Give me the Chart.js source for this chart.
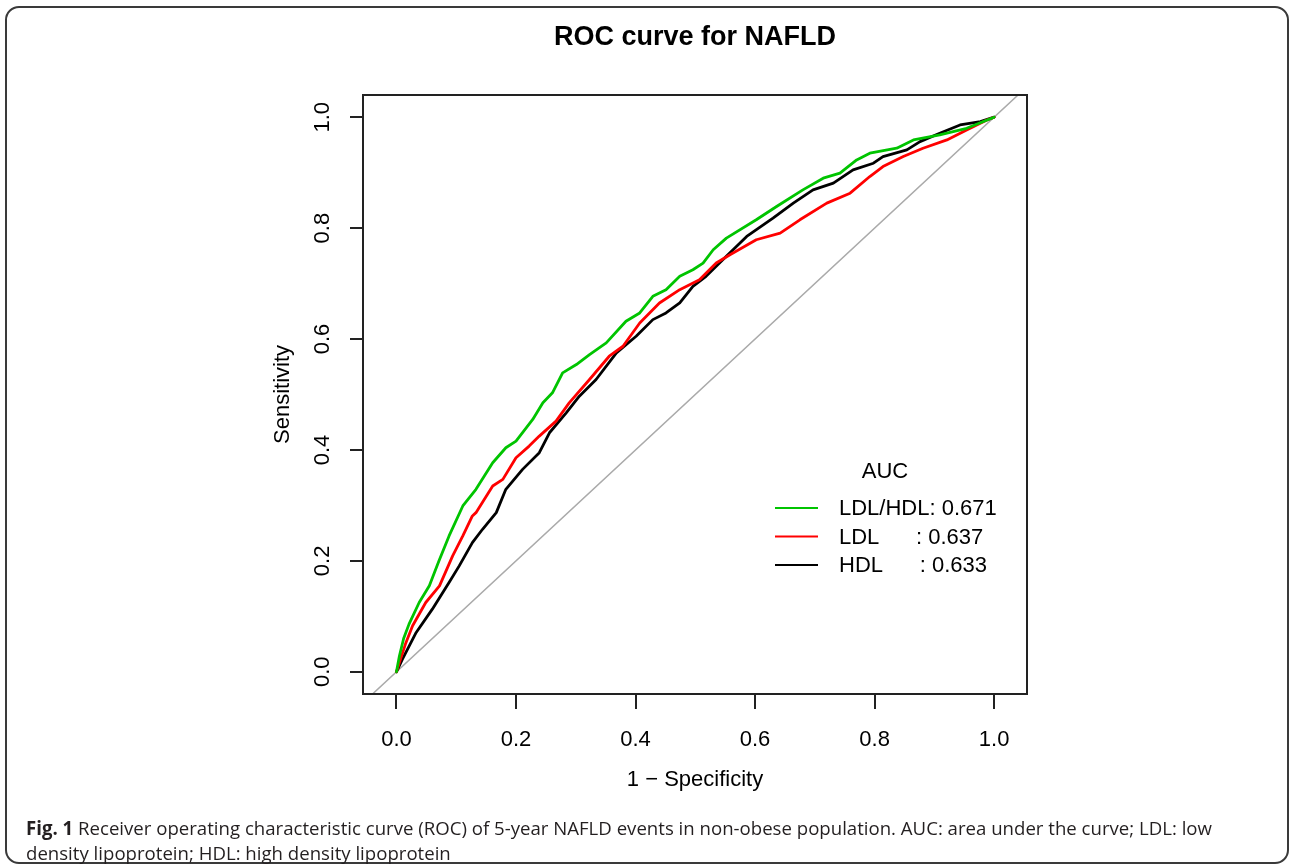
<!DOCTYPE html>
<html>
<head>
<meta charset="utf-8">
<script src="https://cdn.jsdelivr.net/npm/chart.js@4.4.1/dist/chart.umd.min.js"></script>
<style>
  html, body { margin: 0; padding: 0; background: #ffffff; }
  #wrap { position: relative; width: 1290px; height: 864px; overflow: hidden; background: #fff; }
  #frame { position: absolute; left: 5px; top: 6px; width: 1284px; height: 858px; box-sizing: border-box;
           border: 2px solid #3a3a3a; border-radius: 14px; }
  #c { position: absolute; left: 0; top: 0; }
  #caption { position: absolute; left: 26px; top: 816px; font-family: 'Open Sans', 'Noto Sans', sans-serif;
             font-size: 19px; line-height: 25px; color: #231f20; white-space: nowrap; transform-origin: 0 0; }
  #caption b { font-weight: 700; }
</style>
</head>
<body>
<div id="wrap">
  <div id="frame"></div>
  <canvas id="c" width="1290" height="864" style="width:1290px;height:864px;"></canvas>
  <div id="caption"><span id="l1"><b>Fig. 1</b> Receiver operating characteristic curve (ROC) of 5-year NAFLD events in non-obese population. AUC: area under the curve; LDL: low</span><br>density lipoprotein; HDL: high density lipoprotein</div>
</div>
<script>
// ---------- data ----------
const chartTitle = 'ROC curve for NAFLD';
const xAxisTitle = '1 \u2212 Specificity';
const yAxisTitle = 'Sensitivity';
const xTicks = [0.0, 0.2, 0.4, 0.6, 0.8, 1.0];
const yTicks = [0.0, 0.2, 0.4, 0.6, 0.8, 1.0];
const legendTitle = 'AUC';
const seriesNames = ['LDL/HDL', 'LDL', 'HDL'];
const legendLabels = ['LDL/HDL: 0.671', 'LDL      : 0.637', 'HDL      : 0.633'];
const seriesColors = ['#00c400', '#ff0000', '#000000'];

// LDL/HDL (green)
const fprLdlHdl = [0, 0.005, 0.012, 0.021, 0.038, 0.055, 0.071, 0.088, 0.111, 0.133, 0.161, 0.183, 0.2, 0.228, 0.245, 0.261, 0.278, 0.301, 0.323, 0.351, 0.384, 0.407, 0.429, 0.451, 0.474, 0.496, 0.513, 0.53, 0.552, 0.602, 0.636, 0.68, 0.714, 0.742, 0.77, 0.792, 0.837, 0.865, 0.909, 0.954, 1.0];
const tprLdlHdl = [0, 0.029, 0.06, 0.086, 0.125, 0.155, 0.2, 0.245, 0.299, 0.329, 0.377, 0.404, 0.416, 0.455, 0.485, 0.503, 0.539, 0.554, 0.572, 0.593, 0.632, 0.647, 0.677, 0.689, 0.713, 0.725, 0.737, 0.761, 0.782, 0.815, 0.839, 0.869, 0.89, 0.899, 0.923, 0.935, 0.944, 0.959, 0.968, 0.98, 1.0];

// LDL (red)
const fprLdl = [0, 0.005, 0.015, 0.027, 0.049, 0.072, 0.094, 0.111, 0.127, 0.133, 0.161, 0.178, 0.2, 0.222, 0.239, 0.267, 0.289, 0.323, 0.356, 0.379, 0.407, 0.44, 0.474, 0.507, 0.535, 0.558, 0.602, 0.642, 0.675, 0.72, 0.759, 0.792, 0.814, 0.848, 0.881, 0.921, 0.954, 0.988, 1.0];
const tprLdl = [0, 0.017, 0.05, 0.083, 0.125, 0.155, 0.209, 0.245, 0.281, 0.287, 0.335, 0.347, 0.386, 0.407, 0.425, 0.452, 0.485, 0.527, 0.569, 0.587, 0.629, 0.665, 0.689, 0.707, 0.737, 0.752, 0.779, 0.791, 0.815, 0.845, 0.863, 0.893, 0.911, 0.929, 0.944, 0.959, 0.977, 0.995, 1.0];

// HDL (black)
const fprHdl = [0, 0.01, 0.033, 0.06, 0.088, 0.105, 0.127, 0.144, 0.167, 0.183, 0.211, 0.239, 0.256, 0.284, 0.306, 0.334, 0.368, 0.401, 0.429, 0.451, 0.474, 0.496, 0.518, 0.546, 0.586, 0.63, 0.664, 0.697, 0.731, 0.764, 0.798, 0.814, 0.854, 0.876, 0.909, 0.943, 0.977, 1.0];
const tprHdl = [0, 0.023, 0.071, 0.113, 0.161, 0.191, 0.233, 0.257, 0.287, 0.329, 0.365, 0.395, 0.431, 0.467, 0.497, 0.527, 0.575, 0.605, 0.635, 0.647, 0.665, 0.695, 0.713, 0.743, 0.785, 0.818, 0.845, 0.869, 0.881, 0.905, 0.917, 0.929, 0.941, 0.956, 0.971, 0.986, 0.992, 1.0];

// reference diagonal
const diagX = [-0.2, 1.2];
const diagY = [-0.2, 1.2];

// ---------- chart ----------
const FONT = "'Liberation Sans', Arial, Helvetica, sans-serif";
Chart.defaults.font.family = FONT;
Chart.defaults.color = '#000';

const pts = (xs, ys) => xs.map((x, i) => ({ x: x, y: ys[i] }));

const decorPlugin = {
  id: 'decor',
  afterDraw(chart) {
    const ctx = chart.ctx;
    const a = chart.chartArea;
    const ys = chart.scales.y;
    ctx.save();
    // plot box
    ctx.strokeStyle = '#222';
    ctx.lineWidth = 2;
    ctx.strokeRect(a.left, a.top, a.right - a.left, a.bottom - a.top);
    // rotated y tick labels (R style)
    ctx.fillStyle = '#000';
    ctx.font = '22px ' + FONT;
    ctx.textAlign = 'center';
    ctx.textBaseline = 'middle';
    yTicks.forEach(v => {
      const py = ys.getPixelForValue(v);
      ctx.save();
      ctx.translate(a.left - 40, py);
      ctx.rotate(-Math.PI / 2);
      ctx.fillText(v.toFixed(1), 0, 0);
      ctx.restore();
    });
    // legend
    const lx = a.right - 252, ly = a.bottom - 222;
    ctx.textAlign = 'center';
    ctx.fillText(legendTitle, lx + 110, ly);
    ctx.textAlign = 'left';
    legendLabels.forEach((lab, i) => {
      const y = ly + 36 + i * 28.5;
      ctx.strokeStyle = seriesColors[i];
      ctx.lineWidth = 2;
      ctx.beginPath();
      ctx.moveTo(lx, y);
      ctx.lineTo(lx + 43, y);
      ctx.stroke();
      ctx.fillText(lab, lx + 64, y + 1);
    });
    ctx.restore();
  }
};

const axisFont = { family: FONT, size: 22 };

new Chart(document.getElementById('c').getContext('2d'), {
  type: 'line',
  data: {
    datasets: [
      { label: 'diagonal', data: pts(diagX, diagY), borderColor: '#aaaaaa', borderWidth: 1.5, order: 3 },
      { label: seriesNames[2], data: pts(fprHdl, tprHdl), borderColor: seriesColors[2], borderWidth: 2.8, order: 2 },
      { label: seriesNames[1], data: pts(fprLdl, tprLdl), borderColor: seriesColors[1], borderWidth: 2.8, order: 1 },
      { label: seriesNames[0], data: pts(fprLdlHdl, tprLdlHdl), borderColor: seriesColors[0], borderWidth: 2.8, order: 0 }
    ]
  },
  options: {
    responsive: false,
    animation: false,
    devicePixelRatio: 1,
    layout: { padding: { left: 0, right: 263, top: 0, bottom: 0 } },
    elements: {
      point: { radius: 0, hoverRadius: 0 },
      line: { tension: 0, fill: false, borderJoinStyle: 'round', borderCapStyle: 'round' }
    },
    plugins: {
      legend: { display: false },
      tooltip: { enabled: false },
      title: {
        display: true, fullSize: false, text: chartTitle, color: '#000',
        font: { family: FONT, size: 27, weight: 'bold' },
        padding: { top: 21.8, bottom: 40.8 }
      }
    },
    scales: {
      x: {
        type: 'linear', min: -0.056, max: 1.055,
        afterBuildTicks(s) { s.ticks = xTicks.map(v => ({ value: v })); },
        afterFit(s) { s.height = 170; },
        ticks: { callback: v => Number(v).toFixed(1), font: axisFont, color: '#000', padding: 17.8, maxRotation: 0, minRotation: 0, autoSkip: false },
        grid: { drawOnChartArea: false, drawTicks: true, tickLength: 15, color: '#222', lineWidth: 2 },
        border: { display: false },
        title: { display: true, text: xAxisTitle, font: axisFont, color: '#000', padding: { top: 0, bottom: 70.8 } }
      },
      y: {
        type: 'linear', min: -0.04, max: 1.04,
        afterBuildTicks(s) { s.ticks = yTicks.map(v => ({ value: v })); },
        afterFit(s) { s.width = 363; },
        ticks: { display: false },
        grid: { drawOnChartArea: false, drawTicks: true, tickLength: 13, color: '#222', lineWidth: 2 },
        border: { display: false },
        title: { display: true, text: yAxisTitle, font: axisFont, color: '#000', padding: { top: 269.8, bottom: 0 } }
      }
    }
  },
  plugins: [decorPlugin]
});

// fit caption line 1 to the reference width
(function () {
  const l1 = document.getElementById('l1');
  const w = l1.getBoundingClientRect().width;
  const target = 1186;
  if (w > 0) document.getElementById('caption').style.transform = 'scaleX(' + (target / w) + ')';
})();
</script>
</body>
</html>
